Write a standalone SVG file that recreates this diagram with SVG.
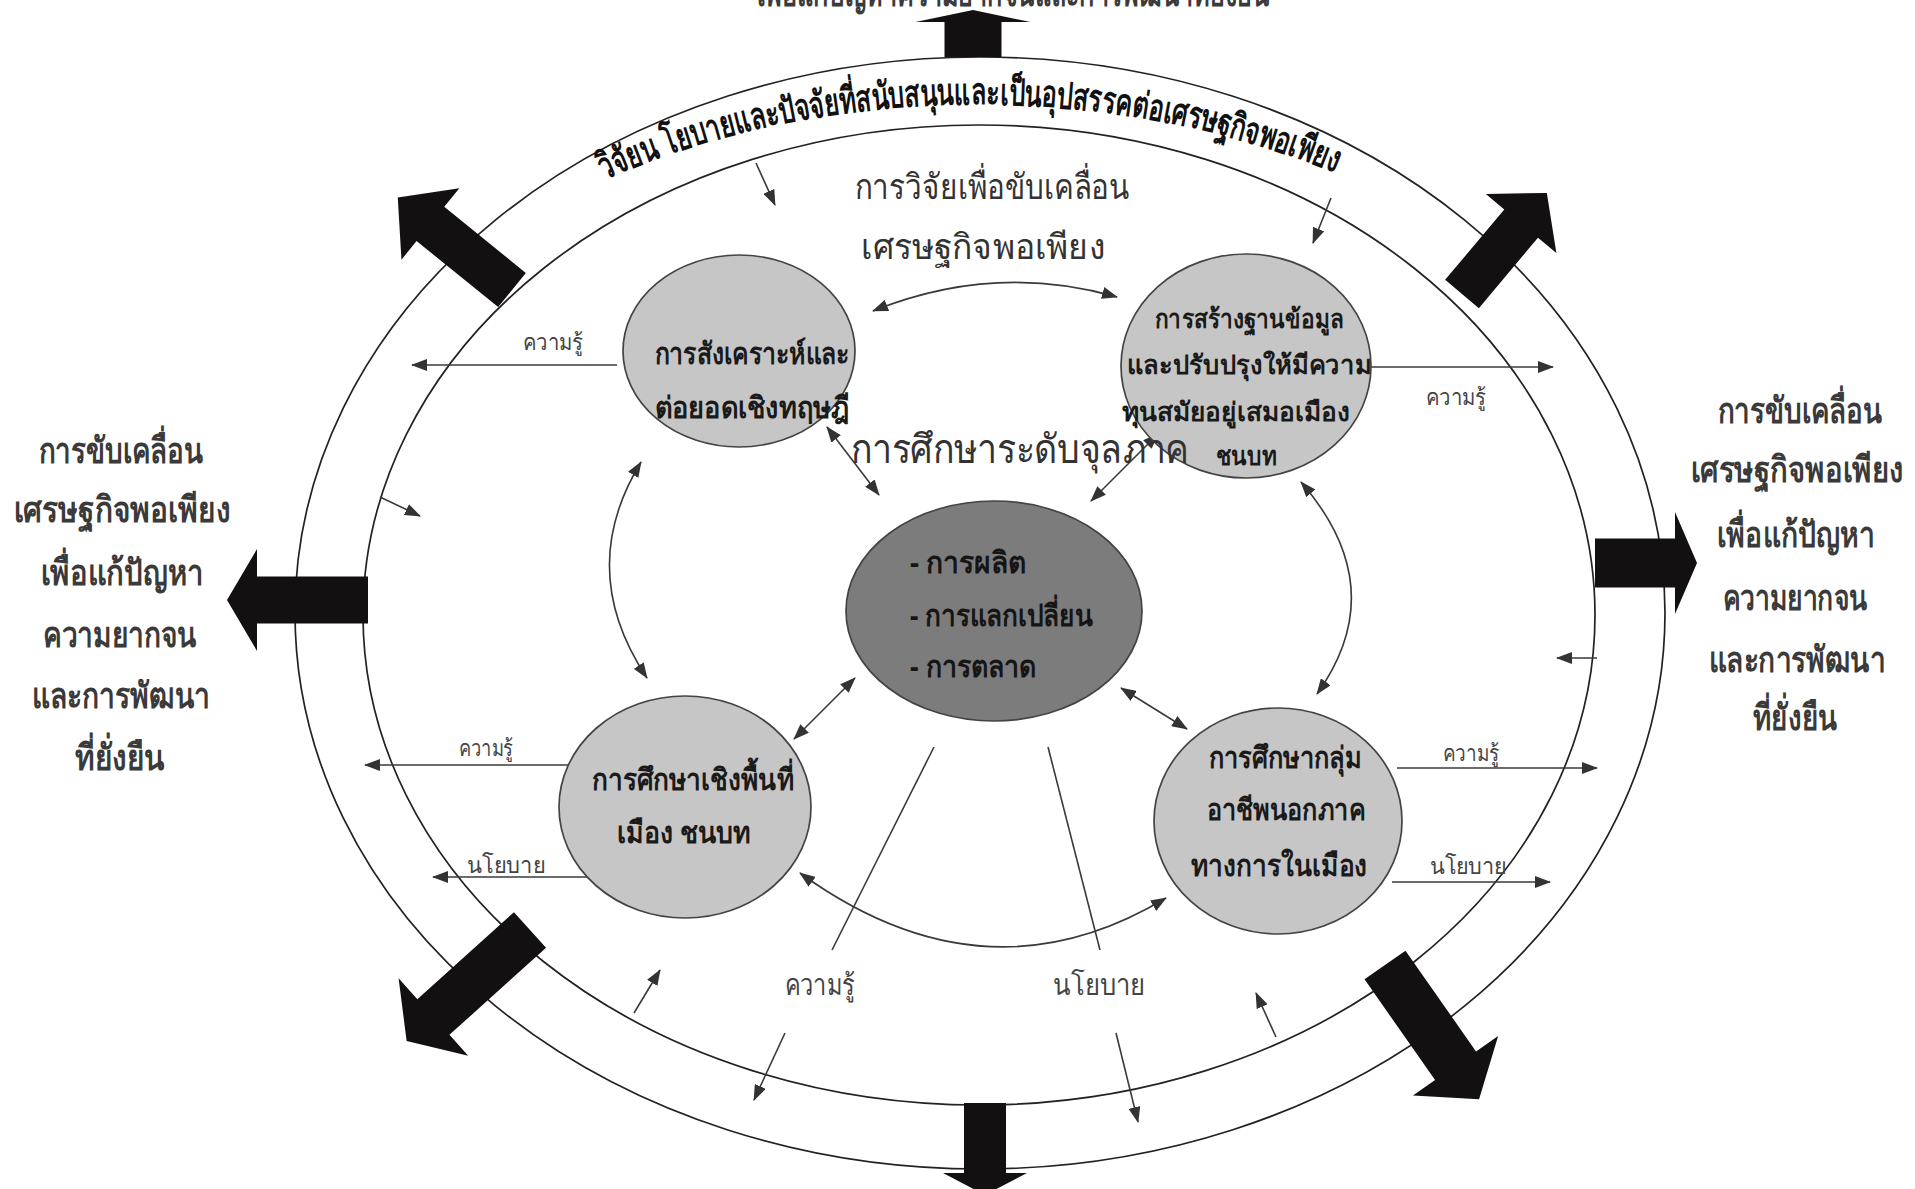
<svg xmlns="http://www.w3.org/2000/svg" width="1915" height="1189" viewBox="0 0 1915 1189">
<defs>
<marker id="ah" viewBox="0 0 16 12" refX="15" refY="6" markerWidth="16" markerHeight="12" markerUnits="userSpaceOnUse" orient="auto-start-reverse"><path d="M0,0 L16,6 L0,12 z" fill="#333"/></marker>
<path id="arcText" d="M 604 180 A 700 488 0 0 1 1352 180"/>
</defs>
<style>
.ring{fill:none;stroke:#222;stroke-width:1.7}
.node{fill:#c6c6c6;stroke:#444;stroke-width:1.7}
.core{fill:#7c7c7c;stroke:#444;stroke-width:1.7}
.big{fill:#121010}
.ln{fill:none;stroke:#3a3a3a;stroke-width:1.6}
.arr{marker-end:url(#ah)}
.dbl{marker-start:url(#ah);marker-end:url(#ah)}
text{font-family:'Noto Sans','DejaVu Sans',sans-serif}
.nt{font-size:30px;font-weight:bold;fill:#1a1a1a;text-anchor:middle}
.ct{font-size:30px;font-weight:bold;fill:#151515}
.side{font-size:36px;font-weight:bold;fill:#3a3a3a;text-anchor:middle}
.mid{font-size:35px;fill:#333;text-anchor:middle}
.lbl{font-size:23px;fill:#444;text-anchor:middle}
.arc{font-size:37px;font-weight:bold;fill:#111}
</style>

<rect width="1915" height="1189" fill="#ffffff"/>

<g id="rings">
<ellipse class="ring" cx="980" cy="613" rx="685" ry="556"/>
<ellipse class="ring" cx="979" cy="615" rx="616" ry="490"/>
</g>

<g id="big-arrows">
<polygon class="big" transform="translate(973,57) rotate(-90)" points="0,-28.5 35,-28.5 35,-57.5 47,0 35,57.5 35,28.5 0,28.5"/>
<polygon class="big" transform="translate(1595,563)" points="0,-24.5 80,-24.5 80,-51 102,0 80,51 80,24.5 0,24.5"/>
<polygon class="big" transform="translate(368,600) rotate(180)" points="0,-23.5 111,-23.5 111,-51 141,0 111,51 111,23.5 0,23.5"/>
<polygon class="big" transform="translate(985,1103) rotate(90)" points="0,-21 70,-21 70,-42 92,0 70,42 70,21 0,21"/>
<polygon class="big" transform="translate(512,290) rotate(219)" points="0,-22 105,-22 105,-46 147,0 105,46 105,22 0,22"/>
<polygon class="big" transform="translate(1462,294) rotate(-50)" points="0,-22 92,-22 92,-46 132,0 92,46 92,22 0,22"/>
<polygon class="big" transform="translate(530,930) rotate(138)" points="0,-24 130,-24 130,-52 166,0 130,52 130,24 0,24"/>
<polygon class="big" transform="translate(1385,965) rotate(55)" points="0,-25 123,-25 123,-52 164,0 123,52 123,25 0,25"/>
</g>

<g id="connectors">
<path class="ln arr" d="M617,365 L412,365"/>
<path class="ln arr" d="M1370,367 L1553,367"/>
<path class="ln arr" d="M568,765 L365,765"/>
<path class="ln arr" d="M593,877 L433,877"/>
<path class="ln arr" d="M1397,768 L1597,768"/>
<path class="ln arr" d="M1392,882 L1550,882"/>
<path class="ln arr" d="M756,163 L775,205"/>
<path class="ln arr" d="M1331,198 L1313,243"/>
<path class="ln arr" d="M380,497 L420,516"/>
<path class="ln arr" d="M1597,658 L1557,658"/>
<path class="ln arr" d="M634,1013 L660,970"/>
<path class="ln arr" d="M1276,1037 L1256,993"/>
<path class="ln arr" d="M785,1033 L754,1100"/>
<path class="ln arr" d="M1116,1033 L1138,1122"/>
<path class="ln" d="M934,747 L832,950"/>
<path class="ln" d="M1048,747 L1100,950"/>
<path class="ln dbl" d="M827,427 L879,495"/>
<path class="ln dbl" d="M1158,434 L1091,501"/>
<path class="ln dbl" d="M855,678 L794,739"/>
<path class="ln dbl" d="M1121,688 L1187,729"/>
<path class="ln dbl" d="M873,311 Q995,262 1117,297"/>
<path class="ln dbl" d="M641,462 Q575,570 647,678"/>
<path class="ln dbl" d="M1301,482 Q1393,588 1317,694"/>
<path class="ln dbl" d="M800,873 Q985,1007 1166,898"/>
</g>

<g id="node-tl">
<ellipse class="node" cx="739" cy="351" rx="116" ry="96"/>
<text class="nt" x="752" y="364" textLength="195" lengthAdjust="spacingAndGlyphs">การสังเคราะห์และ</text>
<text class="nt" x="752" y="418" textLength="195" lengthAdjust="spacingAndGlyphs">ต่อยอดเชิงทฤษฎี</text>
</g>

<g id="node-tr">
<ellipse class="node" cx="1246" cy="366" rx="125" ry="112"/>
<text class="nt" x="1249" y="328" textLength="189" lengthAdjust="spacingAndGlyphs" style="font-size:26px">การสร้างฐานข้อมูล</text>
<text class="nt" x="1249" y="374" textLength="245" lengthAdjust="spacingAndGlyphs" style="font-size:26px">และปรับปรุงให้มีความ</text>
<text class="nt" x="1236" y="421" textLength="229" lengthAdjust="spacingAndGlyphs" style="font-size:26px">ทุนสมัยอยู่เสมอเมือง</text>
<text class="nt" x="1246" y="465" textLength="61" lengthAdjust="spacingAndGlyphs" style="font-size:26px">ชนบท</text>
</g>

<g id="node-center">
<ellipse class="core" cx="994" cy="611" rx="148" ry="110"/>
<text class="ct" x="910" y="573" textLength="116" lengthAdjust="spacingAndGlyphs">- การผลิต</text>
<text class="ct" x="910" y="626" textLength="183" lengthAdjust="spacingAndGlyphs">- การแลกเปลี่ยน</text>
<text class="ct" x="910" y="677" textLength="126" lengthAdjust="spacingAndGlyphs">- การตลาด</text>
</g>

<g id="node-bl">
<ellipse class="node" cx="685" cy="807" rx="126" ry="111"/>
<text class="nt" x="693" y="790" textLength="202" lengthAdjust="spacingAndGlyphs">การศึกษาเชิงพื้นที่</text>
<text class="nt" x="684" y="843" textLength="134" lengthAdjust="spacingAndGlyphs">เมือง  ชนบท</text>
</g>

<g id="node-br">
<ellipse class="node" cx="1278" cy="821" rx="124" ry="113"/>
<text class="nt" x="1285" y="768" textLength="153" lengthAdjust="spacingAndGlyphs">การศึกษากลุ่ม</text>
<text class="nt" x="1286" y="820" textLength="159" lengthAdjust="spacingAndGlyphs">อาชีพนอกภาค</text>
<text class="nt" x="1279" y="876" textLength="177" lengthAdjust="spacingAndGlyphs">ทางการในเมือง</text>
</g>

<g id="labels">
<text class="arc"><textPath href="#arcText" textLength="750" lengthAdjust="spacingAndGlyphs">วิจัยน โยบายและปัจจัยที่สนับสนุนและเป็นอุปสรรคต่อเศรษฐกิจพอเพียง</textPath></text>
<text class="side" x="1013" y="6" textLength="513" lengthAdjust="spacingAndGlyphs">เพื่อแก้ปัญหาความยากจนและการพัฒนาที่ยั่งยืน</text>
<text class="mid" x="992" y="199" textLength="275" lengthAdjust="spacingAndGlyphs">การวิจัยเพื่อขับเคลื่อน</text>
<text class="mid" x="983" y="259" textLength="244" lengthAdjust="spacingAndGlyphs">เศรษฐกิจพอเพียง</text>
<text class="mid" x="1020" y="463" textLength="339" lengthAdjust="spacingAndGlyphs" style="font-size:40px">การศึกษาระดับจุลภาค</text>

<text class="lbl" x="553" y="350" textLength="60" lengthAdjust="spacingAndGlyphs">ความรู้</text>
<text class="lbl" x="1456" y="405" textLength="60" lengthAdjust="spacingAndGlyphs">ความรู้</text>
<text class="lbl" x="486" y="756" textLength="54" lengthAdjust="spacingAndGlyphs">ความรู้</text>
<text class="lbl" x="506" y="873" textLength="78" lengthAdjust="spacingAndGlyphs">นโยบาย</text>
<text class="lbl" x="1471" y="761" textLength="56" lengthAdjust="spacingAndGlyphs">ความรู้</text>
<text class="lbl" x="1468" y="874" textLength="77" lengthAdjust="spacingAndGlyphs">นโยบาย</text>
<text class="lbl" x="820" y="995" textLength="70" lengthAdjust="spacingAndGlyphs" style="font-size:29px">ความรู้</text>
<text class="lbl" x="1099" y="995" textLength="92" lengthAdjust="spacingAndGlyphs" style="font-size:29px">นโยบาย</text>

<text class="side" x="121" y="463" textLength="165" lengthAdjust="spacingAndGlyphs">การขับเคลื่อน</text>
<text class="side" x="122" y="522" textLength="217" lengthAdjust="spacingAndGlyphs">เศรษฐกิจพอเพียง</text>
<text class="side" x="122" y="585" textLength="163" lengthAdjust="spacingAndGlyphs">เพื่อแก้ปัญหา</text>
<text class="side" x="120" y="647" textLength="154" lengthAdjust="spacingAndGlyphs">ความยากจน</text>
<text class="side" x="121" y="708" textLength="178" lengthAdjust="spacingAndGlyphs">และการพัฒนา</text>
<text class="side" x="120" y="770" textLength="90" lengthAdjust="spacingAndGlyphs">ที่ยั่งยืน</text>

<text class="side" x="1800" y="423" textLength="165" lengthAdjust="spacingAndGlyphs">การขับเคลื่อน</text>
<text class="side" x="1797" y="482" textLength="213" lengthAdjust="spacingAndGlyphs">เศรษฐกิจพอเพียง</text>
<text class="side" x="1796" y="547" textLength="158" lengthAdjust="spacingAndGlyphs">เพื่อแก้ปัญหา</text>
<text class="side" x="1795" y="610" textLength="145" lengthAdjust="spacingAndGlyphs">ความยากจน</text>
<text class="side" x="1797" y="672" textLength="177" lengthAdjust="spacingAndGlyphs">และการพัฒนา</text>
<text class="side" x="1795" y="730" textLength="84" lengthAdjust="spacingAndGlyphs">ที่ยั่งยืน</text>
</g>
</svg>
